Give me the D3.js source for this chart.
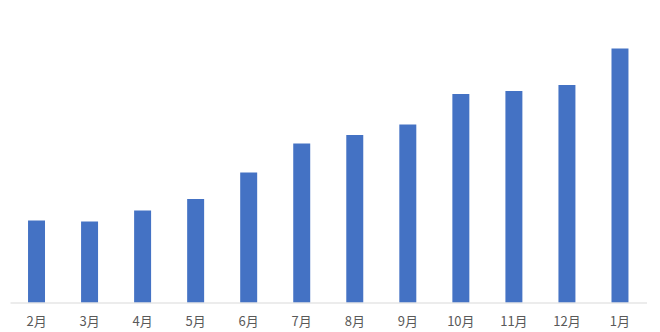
<!DOCTYPE html>
<html>
<head>
<meta charset="utf-8">
<script src="https://cdn.jsdelivr.net/npm/d3@7"></script>
<style>
html,body{margin:0;padding:0;background:#fff;}
</style>
</head>
<body>
<svg id="chart" width="660" height="332"></svg>
<script>
const categories = ["2月","3月","4月","5月","6月","7月","8月","9月","10月","11月","12月","1月"];
const values = [82, 81, 92, 103.5, 130, 159, 167.5, 178, 208.5, 211.5, 217.5, 254];

const svg = d3.select("#chart");
const x = d3.scaleBand().domain(categories).range([10, 646.5]).paddingInner(0.68).paddingOuter(0.34);
const y = d3.scaleLinear().domain([0, 300]).range([302.5, 2.5]);

svg.selectAll("rect.bar").data(values).enter().append("rect")
  .attr("class","bar")
  .attr("x", (d,i) => x(categories[i]))
  .attr("width", x.bandwidth())
  .attr("y", d => y(d))
  .attr("height", d => y(0) - y(d))
  .attr("fill", "#4472C4");

const xAxis = d3.axisBottom(x).tickSize(0).tickPadding(14);
const g = svg.append("g").attr("transform", `translate(0,${y(0)})`).call(xAxis);
g.select(".domain").attr("stroke", "#d9d9d9").attr("stroke-width", 1);
g.selectAll("text")
  .attr("fill", "#595959")
  .style("font-family", "'Noto Sans CJK SC', 'Open Sans', sans-serif")
  .style("font-size", "13px");
</script>
</body>
</html>
